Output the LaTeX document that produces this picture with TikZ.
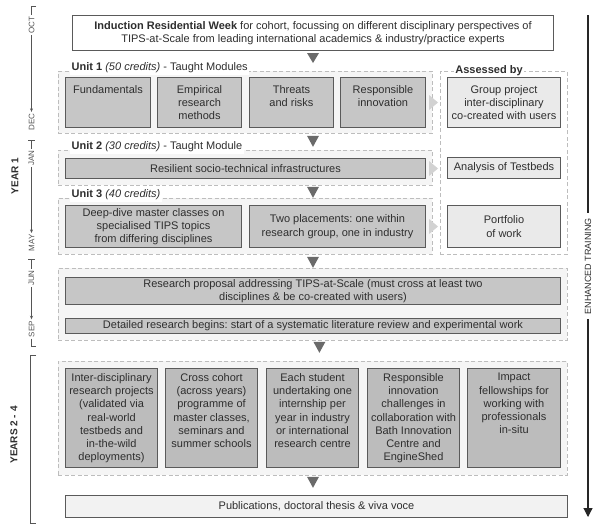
\documentclass[tikz,border=0pt]{standalone}
\usepackage{fontspec}
\setmainfont{Liberation Sans}
\usetikzlibrary{arrows.meta,calc}
\definecolor{txt}{HTML}{2E2E2E}
\definecolor{boxline}{HTML}{5A5A5A}
\definecolor{boxgray}{HTML}{C6C6C6}
\definecolor{boxgrayd}{HTML}{BCBCBC}
\definecolor{boxlight}{HTML}{EAEAEA}
\definecolor{publight}{HTML}{F2F2F2}
\definecolor{contfill}{HTML}{F5F5F5}
\definecolor{dashgray}{HTML}{BDBDBD}
\definecolor{darktri}{HTML}{6A6A6A}
\definecolor{lighttri}{HTML}{D2D2D2}
\definecolor{tlgray}{HTML}{555555}
\frenchspacing
\begin{document}
\begin{tikzpicture}[x=1pt,y=-1pt,
  font=\fontsize{11}{13.3}\selectfont, text=txt,
  container/.style={draw=dashgray, dash pattern=on 4pt off 2.5pt, fill=contfill, line width=0.8pt, anchor=north west, inner sep=0pt},
  wcontainer/.style={container, fill=white},
  gbox/.style={draw=boxline, fill=boxgray, line width=1pt, anchor=north west, inner sep=0pt, align=center},
  ybox/.style={gbox, fill=boxgrayd},
  lbox/.style={gbox, fill=boxlight},
  pbox/.style={gbox, fill=publight},
  wbox/.style={gbox, fill=white},
  toptext/.style={anchor=north, align=center, inner sep=0pt},
  ulabel/.style={fill=white, inner sep=1.5pt, anchor=west},
  month/.style={rotate=90, font=\fontsize{8}{9.5}\selectfont, inner sep=1.5pt, text=tlgray},
  yearlbl/.style={rotate=90, font=\fontsize{10}{12}\selectfont\bfseries},
  tl/.style={draw=tlgray, line width=0.8pt},
  tlarrow/.style={tl, -{Stealth[length=3.5pt,width=3pt]}},
  dtri/.style={fill=darktri},
  ltri/.style={fill=lighttri},
]
\useasboundingbox[fill=white] (0,0) rectangle (601,531);

% containers
\node[container, minimum width=374pt, minimum height=62pt] (u1c) at (58,71) {};
\node[container, minimum width=374pt, minimum height=35pt] (u2c) at (58,150) {};
\node[container, minimum width=374pt, minimum height=56pt] (u3c) at (58,198) {};
\node[wcontainer, minimum width=127pt, minimum height=183pt] (asc) at (440,71) {};
\node[container, minimum width=509pt, minimum height=72pt] (rc) at (58,268) {};
\node[container, minimum width=509pt, minimum height=114pt] (yc) at (58,361) {};

% container labels
\node[ulabel] (u1l) at (70,68) {\textbf{Unit 1} \textit{(50 credits)} - Taught Modules};
\node[ulabel] (u2l) at (70,147) {\textbf{Unit 2} \textit{(30 credits)} - Taught Module};
\node[ulabel] (u3l) at (70,195) {\textbf{Unit 3} \textit{(40 credits)}};
\node[fill=white, inner sep=1.5pt] (asl) at (489,71) {\textbf{Assessed by}};

% induction
\node[wbox, minimum width=481pt, minimum height=35pt] (ind) at (72,15)
  {\textbf{Induction Residential Week} for cohort, focussing on different disciplinary perspectives of\\
   TIPS-at-Scale from leading international academics \& industry/practice experts};

% unit 1
\node[gbox, minimum width=85pt, minimum height=50pt] (fund) at (65,77) {};
\node[gbox, minimum width=84pt, minimum height=50pt] (emp) at (157,77) {};
\node[gbox, minimum width=84pt, minimum height=50pt] (thr) at (249,77) {};
\node[gbox, minimum width=85pt, minimum height=50pt] (resp) at (340,77) {};
\node[lbox, minimum width=113pt, minimum height=50pt] (grp) at (447,77) {};
\node[toptext] (fund-t) at ([yshift=-8pt]fund.north) {Fundamentals};
\node[toptext] (emp-t) at ([yshift=-8pt]emp.north) {Empirical\\research\\methods};
\node[toptext] (thr-t) at ([yshift=-8pt]thr.north) {Threats\\and risks};
\node[toptext] (resp-t) at ([yshift=-8pt]resp.north) {Responsible\\innovation};
\node[toptext] (grp-t) at ([yshift=-8pt]grp.north) {Group project\\inter-disciplinary\\co-created with users};

% unit 2
\node[gbox, minimum width=360pt, minimum height=20pt] (res) at (65,158) {Resilient socio-technical infrastructures};
\node[lbox, minimum width=113pt, minimum height=21pt] (ana) at (447,157) {Analysis of Testbeds};

% unit 3
\node[gbox, minimum width=176pt, minimum height=42pt] (deep) at (65,205) {Deep-dive master classes on\\specialised TIPS topics\\from differing disciplines};
\node[gbox, minimum width=176pt, minimum height=42pt] (two) at (249,205) {Two placements: one within\\research group, one in industry};
\node[lbox, minimum width=113pt, minimum height=42pt] (port) at (447,205) {Portfolio\\of work};

% research
\node[gbox, minimum width=495pt, minimum height=27pt] (rp) at (65,277) {Research proposal addressing TIPS-at-Scale (must cross at least two\\disciplines \& be co-created with users)};
\node[gbox, minimum width=495pt, minimum height=15pt] (dr) at (65,318) {Detailed research begins: start of a systematic literature review and experimental work};

% years 2-4
\node[ybox, minimum width=92pt, minimum height=99pt] (y1) at (65,368) {};
\node[ybox, minimum width=92pt, minimum height=99pt] (y2) at (165,368) {};
\node[ybox, minimum width=92pt, minimum height=99pt] (y3) at (266,368) {};
\node[ybox, minimum width=92pt, minimum height=99pt] (y4) at (367,368) {};
\node[ybox, minimum width=93pt, minimum height=99pt] (y5) at (467,368) {};
\node[toptext] (y1-t) at ([yshift=-5pt]y1.north) {Inter-disciplinary\\research projects\\(validated via\\real-world\\testbeds and\\in-the-wild\\deployments)};
\node[toptext] (y2-t) at ([yshift=-5pt]y2.north) {Cross cohort\\(across years)\\programme of\\master classes,\\seminars and\\summer schools};
\node[toptext] (y3-t) at ([yshift=-5pt]y3.north) {Each student\\undertaking one\\internship per\\year in industry\\or international\\research centre};
\node[toptext] (y4-t) at ([yshift=-5pt]y4.north) {Responsible\\innovation\\challenges in\\collaboration with\\Bath Innovation\\Centre and\\EngineShed};
\node[toptext] (y5-t) at ([yshift=-5pt]y5.north) {Impact\\fellowships for\\working with\\professionals\\in-situ};

% publications
\node[pbox, minimum width=502pt, minimum height=22pt] (pub) at (65,495) {Publications, doctoral thesis \& viva voce};

% down triangles
\fill[dtri] ($(ind.south)+(-6,2)$) -- ++(12,0) -- ++(-6,10) -- cycle;
\fill[dtri] ($(u1c.south -| ind.south)+(-6,2)$) -- ++(12,0) -- ++(-6,11) -- cycle;
\fill[dtri] ($(u2c.south -| ind.south)+(-6,1)$) -- ++(12,0) -- ++(-6,11) -- cycle;
\fill[dtri] ($(u3c.south -| ind.south)+(-6,2)$) -- ++(12,0) -- ++(-6,11) -- cycle;
\fill[dtri] ($(rc.south)+(0.5,1)$) -- ++(12,0) -- ++(-6,11) -- cycle;
\fill[dtri] ($(yc.south -| ind.south)+(-6,1)$) -- ++(12,0) -- ++(-6,11) -- cycle;

% right triangles (to assessment)
\fill[ltri] ($(resp.east)+(3,-7.5)$) -- ++(9,7.5) -- ++(-9,7.5) -- cycle;
\fill[ltri] ($(res.east)+(3,-7.5)$) -- ++(9,7.5) -- ++(-9,7.5) -- cycle;
\fill[ltri] ($(two.east)+(3,-7.5)$) -- ++(9,7.5) -- ++(-9,7.5) -- cycle;

% left timeline
\node[month] (oct) at (31.5,25) {OCT};
\node[month] (dec) at (31.5,122) {DEC};
\node[month] (jan) at (31.5,158) {JAN};
\node[month] (may) at (31.5,243) {MAY};
\node[month] (jun) at (31.5,278) {JUN};
\node[month] (sep) at (31.5,329) {SEP};
\coordinate (top) at (31.5,6);
\coordinate (b1) at (31.5,140);
\coordinate (b2) at (31.5,259);
\coordinate (bot) at (31.5,346);
\draw[tl] ($(top)+(4.5,0)$) -- (top) -- (oct.east);
\draw[tlarrow] (oct.west) -- (dec.east);
\draw[tl] ($(b1)+(-3.5,0)$) -- ($(b1)+(3.5,0)$);
\draw[tl] (b1) -- (jan.east);
\draw[tlarrow] (jan.west) -- (may.east);
\draw[tl] ($(b2)+(-3.5,0)$) -- ($(b2)+(3.5,0)$);
\draw[tl] (b2) -- (jun.east);
\draw[tlarrow] (jun.west) -- (sep.east);
\draw[tl] (sep.west) -- (bot) -- ($(bot)+(4.5,0)$);
\coordinate (yb1) at (30,355);
\coordinate (yb2) at (30,523);
\draw[tl] ($(yb1)+(6,0)$) -- (yb1) -- (yb2) -- ($(yb2)+(6,0)$);
\node[yearlbl] (year1) at (15,176) {YEAR 1};
\node[yearlbl] (years) at (14,435) {YEARS 2 - 4};

% right timeline
\node[rotate=90, font=\fontsize{9}{11}\selectfont, inner sep=5pt] (enh) at (588,266) {ENHANCED TRAINING};
\coordinate (rtop) at (588,15);
\coordinate (rbot) at (588,517);
\draw[line width=1.1pt, draw=black!85] (rtop) -- (enh.east);
\draw[line width=1.1pt, draw=black!85, -{Triangle[length=9pt,width=9pt]}] (enh.west) -- (rbot);
\end{tikzpicture}
\end{document}
